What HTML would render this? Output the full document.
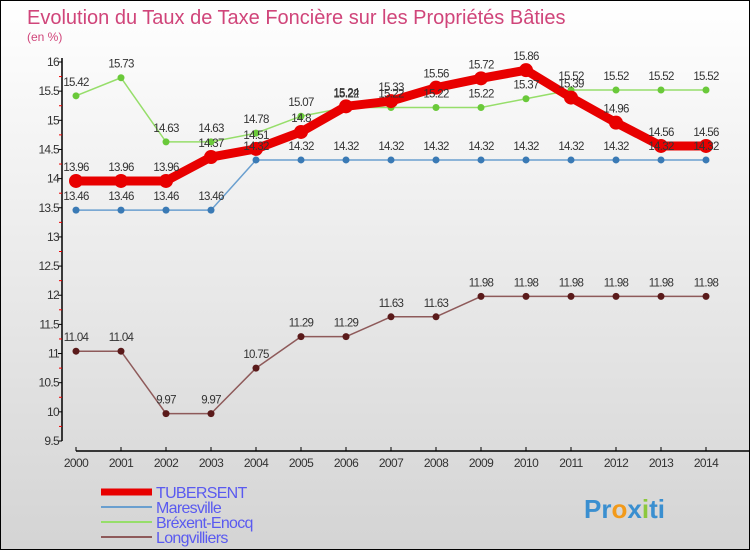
<!DOCTYPE html>
<html><head><meta charset="utf-8"><style>
body{margin:0}
#c{width:750px;height:550px;position:relative;overflow:hidden;box-sizing:border-box;border:1px solid #000;background:linear-gradient(#ffffff,#d4d4d4);font-family:"Liberation Sans",sans-serif}
svg text{font-family:"Liberation Sans",sans-serif}
</style></head><body>
<div id="c">
<svg id="s" width="750" height="550" xmlns="http://www.w3.org/2000/svg">
<text x="26" y="23" font-size="20" fill="#d0457a">Evolution du Taux de Taxe Foncière sur les Propriétés Bâties</text>
<text x="26" y="40" font-size="12" fill="#d0457a">(en %)</text>
<g id="g"></g>
</svg>
</div>
<script>
const years=[2000,2001,2002,2003,2004,2005,2006,2007,2008,2009,2010,2011,2012,2013,2014];
const yTicks=[9.5,10,10.5,11,11.5,12,12.5,13,13.5,14,14.5,15,15.5,16];
const tubersent=[13.96,13.96,13.96,14.37,14.51,14.8,15.24,15.33,15.56,15.72,15.86,15.39,14.96,14.56,14.56];
const maresville=[13.46,13.46,13.46,13.46,14.32,14.32,14.32,14.32,14.32,14.32,14.32,14.32,14.32,14.32,14.32];
const brexent=[15.42,15.73,14.63,14.63,14.78,15.07,15.22,15.22,15.22,15.22,15.37,15.52,15.52,15.52,15.52];
const longvilliers=[11.04,11.04,9.97,9.97,10.75,11.29,11.29,11.63,11.63,11.98,11.98,11.98,11.98,11.98,11.98];
const NS="http://www.w3.org/2000/svg";
const g=document.getElementById('g');
const x=i=>75+i*45;
const y=v=>440-(v-9.5)*(379/6.5);
function mk(t,a){const e=document.createElementNS(NS,t);for(const k in a)e.setAttribute(k,a[k]);g.appendChild(e);return e;}
let e=mk('line',{x1:61,y1:57,x2:61,y2:440,stroke:'#000','stroke-width':1.5});


e=mk('line',{x1:75,y1:450,x2:750,y2:450,stroke:'#000','stroke-width':1.5});


yTicks.forEach(v=>{
 mk('line',{x1:57,y1:y(v),x2:61,y2:y(v),stroke:'#000'});
 if(v<16)mk('line',{x1:58,y1:y(v+0.25),x2:61,y2:y(v+0.25),stroke:'#e00'});
 const t=mk('text',{x:58,y:y(v)+4,'font-size':12,'text-anchor':'end',fill:'#333','letter-spacing':'-0.7'});
 t.textContent=v;
 
 
});
years.forEach((yr,i)=>{
 mk('line',{x1:x(i),y1:446,x2:x(i),y2:450,stroke:'#000'});
 const t=mk('text',{x:x(i),y:466,'font-size':12,'text-anchor':'middle',fill:'#333','letter-spacing':'-0.6'});
 t.textContent=yr;
 
 
});
const series=[
 {d:longvilliers,c:'#8e5a5a',p:'#5a1a1a',w:1.5,r:3.5,n:'longvilliers'},
 {d:maresville,c:'#6a9fcf',p:'#3a7ab5',w:1.5,r:3.5,n:'maresville'},
 {d:brexent,c:'#96de6a',p:'#6ac93a',w:1.5,r:3.5,n:'brexent-enocq'},
 {d:tubersent,c:'#e80000',p:'#e80000',w:9,r:7,n:'tubersent'}
];
series.forEach(s=>{
 const l=mk('polyline',{points:s.d.map((v,i)=>x(i)+','+y(v)).join(' '),fill:'none',stroke:s.c,'stroke-width':s.w,'stroke-linejoin':'round'});
 
 
 s.d.forEach((v,i)=>{
  const p=mk('circle',{cx:x(i),cy:y(v),r:s.r,fill:s.p});
  
  
 });
});
series.forEach(s=>{
 s.d.forEach((v,i)=>{
  const t=mk('text',{x:x(i),y:y(v)-10,'font-size':11.5,'text-anchor':'middle',fill:'#333','letter-spacing':'-0.7'});
  t.textContent=v;
  
  
 });
});
const leg=[['TUBERSENT','#e80000',7],['Maresville','#6a9fcf',2],['Bréxent-Enocq','#96de6a',2],['Longvilliers','#8e5a5a',2]];
leg.forEach((L,i)=>{
 const yy=491+i*15;
 const ln=mk('line',{x1:100,y1:yy,x2:151,y2:yy,stroke:L[1],'stroke-width':L[2]});
 
 
 const t=mk('text',{x:155,y:yy+6,'font-size':16,fill:'#5a5af0','letter-spacing':'-0.7'});
 t.textContent=L[0];
 
 
});
const pr=mk('text',{x:583,y:517,'font-size':26,'font-weight':'bold',fill:'#3a8fd0'});
pr.innerHTML='<tspan fill="#3a8fd0">Pr</tspan><tspan fill="#f29a1a">o</tspan><tspan fill="#3a8fd0">x</tspan><tspan fill="#8cc83c">i</tspan><tspan fill="#3a8fd0">ti</tspan>';


</script>
</body></html>
